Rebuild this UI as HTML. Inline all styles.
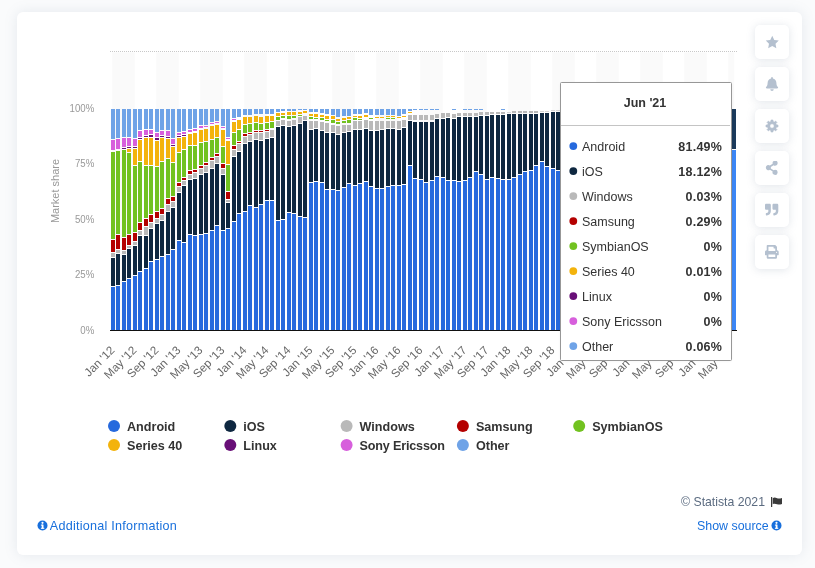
<!DOCTYPE html>
<html><head><meta charset="utf-8"><title>Mobile OS market share</title>
<style>
html,body{margin:0;padding:0}
body{width:815px;height:568px;overflow:hidden;background:#fafbfc;font-family:"Liberation Sans",sans-serif;position:relative}
.card{position:absolute;left:17px;top:12px;width:785px;height:543px;background:#fff;border-radius:6px;box-shadow:0 0 13px rgba(110,125,155,.15)}
svg{position:absolute;left:0;top:0}
svg text{font-family:"Liberation Sans",sans-serif}
.btn{position:absolute;left:755px;width:34px;height:34px;background:#fff;border-radius:5px;box-shadow:0 1px 8px rgba(120,135,160,.22)}
.btn svg{position:absolute;left:9px;top:9px}
.foot{position:absolute;font-size:12.4px;white-space:nowrap}
</style></head><body>
<div id="wrap" style="position:absolute;left:0;top:0;width:815px;height:568px;will-change:transform">
<div class="card"></div>
<svg width="815" height="568" viewBox="0 0 815 568">
<defs><filter id="ts" x="-10%" y="-10%" width="120%" height="120%"><feGaussianBlur stdDeviation="1.5"/></filter></defs>
<g shape-rendering="crispEdges">
<rect x="112.30" y="52.4" width="22.40" height="278" fill="#fafafa" shape-rendering="auto"/>
<rect x="156.30" y="52.4" width="22.40" height="278" fill="#fafafa" shape-rendering="auto"/>
<rect x="200.30" y="52.4" width="22.40" height="278" fill="#fafafa" shape-rendering="auto"/>
<rect x="244.30" y="52.4" width="22.40" height="278" fill="#fafafa" shape-rendering="auto"/>
<rect x="288.30" y="52.4" width="22.40" height="278" fill="#fafafa" shape-rendering="auto"/>
<rect x="332.30" y="52.4" width="22.40" height="278" fill="#fafafa" shape-rendering="auto"/>
<rect x="376.30" y="52.4" width="22.40" height="278" fill="#fafafa" shape-rendering="auto"/>
<rect x="420.30" y="52.4" width="22.40" height="278" fill="#fafafa" shape-rendering="auto"/>
<rect x="464.30" y="52.4" width="22.40" height="278" fill="#fafafa" shape-rendering="auto"/>
<rect x="508.30" y="52.4" width="22.40" height="278" fill="#fafafa" shape-rendering="auto"/>
<rect x="552.30" y="52.4" width="22.40" height="278" fill="#fafafa" shape-rendering="auto"/>
<rect x="596.30" y="52.4" width="22.40" height="278" fill="#fafafa" shape-rendering="auto"/>
<rect x="640.30" y="52.4" width="22.40" height="278" fill="#fafafa" shape-rendering="auto"/>
<rect x="684.30" y="52.4" width="22.40" height="278" fill="#fafafa" shape-rendering="auto"/>
<rect x="728.30" y="52.4" width="5.95" height="278" fill="#fafafa" shape-rendering="auto"/>
<line x1="110" x2="737" y1="51.5" y2="51.5" stroke="#c8c8c8" stroke-width="1" stroke-dasharray="1,1"/>
<path fill="#6fa3e7" d="M111 109h4v30h-4zM116 109h4v29h-4zM122 109h4v28h-4zM127 109h4v28h-4zM133 109h4v29h-4zM138 109h4v21h-4zM144 109h4v20h-4zM149 109h4v20h-4zM155 109h4v23h-4zM160 109h4v21h-4zM166 109h4v21h-4zM171 109h4v29h-4zM177 109h4v23h-4zM182 109h4v22h-4zM188 109h4v20h-4zM193 109h4v19h-4zM199 109h4v16h-4zM204 109h4v16h-4zM210 109h4v13h-4zM215 109h4v12h-4zM221 109h4v17h-4zM226 109h4v28h-4zM232 109h4v9h-4zM237 109h4v8h-4zM243 109h4v6h-4zM248 109h4v6h-4zM254 109h4v5h-4zM259 109h4v5h-4zM265 109h4v5h-4zM270 109h4v5h-4zM276 109h4v3h-4zM281 109h4v2h-4zM287 109h4v2h-4zM292 109h4v2h-4zM298 109h4v1h-4zM303 109h4v1h-4zM309 109h4v3h-4zM314 109h4v3h-4zM320 109h4v4h-4zM325 109h4v5h-4zM331 109h4v6h-4zM336 109h4v8h-4zM342 109h4v7h-4zM347 109h4v7h-4zM353 109h4v5h-4zM358 109h4v5h-4zM364 109h4v4h-4zM369 109h4v6h-4zM375 109h4v6h-4zM380 109h4v6h-4zM386 109h4v6h-4zM391 109h4v6h-4zM397 109h4v7h-4zM402 109h4v5h-4zM408 109h4v2h-4zM413 109h4v1h-4zM419 109h4v1h-4zM424 109h4v1h-4zM430 109h4v1h-4zM435 109h4v1h-4zM452 109h4v1h-4zM463 109h4v1h-4zM468 109h4v1h-4zM474 109h4v1h-4zM479 109h4v1h-4zM501 109h4v1h-4z"/>
<path fill="#d75fdc" d="M111 140h4v10h-4zM116 139h4v10h-4zM122 138h4v9h-4zM127 138h4v8h-4zM133 139h4v7h-4zM138 131h4v6h-4zM144 130h4v5h-4zM149 130h4v4h-4zM155 133h4v4h-4zM160 131h4v4h-4zM166 131h4v5h-4zM171 139h4v5h-4zM177 133h4v2h-4zM182 132h4v2h-4zM188 130h4v2h-4zM193 129h4v2h-4zM199 126h4v2h-4zM204 126h4v1h-4zM210 123h4v1h-4zM215 122h4v1h-4zM221 127h4v1h-4zM226 138h4v1h-4zM232 119h4v1h-4z"/>
<path fill="#72c220" d="M111 152h4v87h-4zM116 151h4v83h-4zM122 150h4v87h-4zM127 153h4v81h-4zM133 166h4v66h-4zM138 162h4v60h-4zM144 166h4v52h-4zM149 166h4v48h-4zM155 167h4v44h-4zM160 162h4v46h-4zM166 159h4v39h-4zM171 163h4v33h-4zM177 153h4v29h-4zM182 150h4v27h-4zM188 146h4v24h-4zM193 146h4v23h-4zM199 143h4v22h-4zM204 142h4v20h-4zM210 140h4v17h-4zM215 138h4v15h-4zM221 147h4v16h-4zM226 165h4v26h-4zM232 133h4v12h-4zM237 130h4v11h-4zM243 125h4v8h-4zM248 124h4v8h-4zM254 123h4v7h-4zM259 124h4v6h-4zM265 123h4v6h-4zM270 122h4v6h-4zM276 117h4v3h-4zM281 116h4v2h-4zM287 116h4v3h-4zM292 116h4v2h-4zM298 115h4v1h-4zM309 117h4v2h-4zM314 118h4v1h-4zM320 118h4v2h-4zM325 120h4v1h-4zM331 120h4v3h-4zM336 122h4v2h-4zM342 121h4v2h-4zM347 120h4v3h-4zM353 118h4v2h-4zM358 119h4v1h-4zM369 118h4v1h-4zM386 118h4v1h-4zM391 118h4v1h-4z"/>
<path fill="#b40000" d="M111 240h4v12h-4zM116 235h4v14h-4zM122 238h4v12h-4zM127 235h4v10h-4zM133 233h4v8h-4zM138 223h4v7h-4zM144 219h4v7h-4zM149 215h4v7h-4zM155 212h4v6h-4zM160 209h4v5h-4zM166 199h4v5h-4zM171 197h4v4h-4zM177 183h4v3h-4zM182 178h4v2h-4zM188 171h4v3h-4zM193 170h4v2h-4zM199 166h4v2h-4zM204 163h4v2h-4zM210 158h4v2h-4zM215 154h4v2h-4zM221 164h4v4h-4zM226 192h4v7h-4zM232 146h4v3h-4zM237 142h4v1h-4zM243 134h4v2h-4zM248 133h4v1h-4zM254 131h4v1h-4zM259 131h4v1h-4zM265 130h4v1h-4z"/>
<path fill="#b9b9b9" d="M111 253h4v4h-4zM116 250h4v3h-4zM122 251h4v3h-4zM127 246h4v2h-4zM133 242h4v3h-4zM138 231h4v4h-4zM144 227h4v8h-4zM149 223h4v5h-4zM155 219h4v4h-4zM160 215h4v5h-4zM166 205h4v6h-4zM171 202h4v5h-4zM177 187h4v5h-4zM182 181h4v4h-4zM188 175h4v4h-4zM193 173h4v5h-4zM199 169h4v5h-4zM204 166h4v6h-4zM210 161h4v7h-4zM215 157h4v6h-4zM221 169h4v5h-4zM226 200h4v2h-4zM232 150h4v6h-4zM237 144h4v7h-4zM243 137h4v6h-4zM248 135h4v6h-4zM254 133h4v6h-4zM259 133h4v7h-4zM265 132h4v6h-4zM270 130h4v7h-4zM276 121h4v5h-4zM281 120h4v5h-4zM287 121h4v5h-4zM292 120h4v5h-4zM298 117h4v6h-4zM303 116h4v4h-4zM309 121h4v8h-4zM314 121h4v7h-4zM320 122h4v8h-4zM325 123h4v9h-4zM331 125h4v7h-4zM336 126h4v8h-4zM342 125h4v7h-4zM347 125h4v6h-4zM353 121h4v8h-4zM358 121h4v8h-4zM364 120h4v8h-4zM369 121h4v9h-4zM375 121h4v9h-4zM380 121h4v8h-4zM386 121h4v7h-4zM391 121h4v7h-4zM397 121h4v8h-4zM402 120h4v7h-4zM408 115h4v5h-4zM413 115h4v5h-4zM419 115h4v5h-4zM424 115h4v5h-4zM430 115h4v5h-4zM435 114h4v4h-4zM441 113h4v5h-4zM446 113h4v4h-4zM452 114h4v4h-4zM457 113h4v3h-4zM463 113h4v3h-4zM468 113h4v3h-4zM474 113h4v3h-4zM479 112h4v3h-4zM485 112h4v3h-4zM490 112h4v2h-4zM496 112h4v2h-4zM501 112h4v2h-4zM512 111h4v2h-4zM518 111h4v2h-4zM523 111h4v2h-4zM529 111h4v2h-4zM534 111h4v2h-4z"/>
<path fill="#0e2740" d="M111 258h4v28h-4zM116 254h4v31h-4zM122 255h4v26h-4zM127 249h4v29h-4zM133 246h4v29h-4zM138 236h4v35h-4zM144 236h4v32h-4zM149 229h4v32h-4zM155 224h4v35h-4zM160 221h4v35h-4zM166 212h4v42h-4zM171 208h4v41h-4zM177 193h4v47h-4zM182 186h4v56h-4zM188 180h4v54h-4zM193 179h4v56h-4zM199 175h4v59h-4zM204 173h4v60h-4zM210 169h4v61h-4zM215 164h4v61h-4zM221 175h4v55h-4zM226 203h4v25h-4zM232 157h4v64h-4zM237 152h4v61h-4zM243 144h4v67h-4zM248 142h4v63h-4zM254 140h4v67h-4zM259 141h4v63h-4zM265 139h4v61h-4zM270 138h4v62h-4zM276 127h4v93h-4zM281 126h4v93h-4zM287 127h4v85h-4zM292 126h4v87h-4zM298 124h4v92h-4zM303 121h4v96h-4zM309 130h4v52h-4zM314 129h4v52h-4zM320 131h4v51h-4zM325 133h4v56h-4zM331 133h4v56h-4zM336 135h4v55h-4zM342 133h4v54h-4zM347 132h4v51h-4zM353 130h4v55h-4zM358 130h4v53h-4zM364 129h4v52h-4zM369 131h4v55h-4zM375 131h4v57h-4zM380 130h4v58h-4zM386 129h4v57h-4zM391 129h4v56h-4zM397 130h4v55h-4zM402 128h4v56h-4zM408 121h4v44h-4zM413 122h4v56h-4zM419 122h4v57h-4zM424 122h4v60h-4zM430 122h4v58h-4zM435 119h4v57h-4zM441 119h4v58h-4zM446 118h4v62h-4zM452 119h4v61h-4zM457 117h4v64h-4zM463 117h4v63h-4zM468 117h4v60h-4zM474 117h4v54h-4zM479 116h4v58h-4zM485 116h4v63h-4zM490 115h4v62h-4zM496 115h4v63h-4zM501 115h4v64h-4zM507 114h4v65h-4zM512 114h4v63h-4zM518 114h4v60h-4zM523 114h4v57h-4zM529 114h4v56h-4zM534 114h4v51h-4zM540 113h4v48h-4zM545 113h4v53h-4zM551 112h4v56h-4zM556 112h4v58h-4zM562 110h4v61h-4zM567 110h4v59h-4zM573 110h4v60h-4zM578 110h4v58h-4zM584 110h4v58h-4zM589 110h4v63h-4zM595 110h4v63h-4zM600 110h4v56h-4zM606 110h4v61h-4zM611 110h4v61h-4zM617 110h4v55h-4zM622 110h4v59h-4zM628 110h4v56h-4zM633 110h4v59h-4zM639 110h4v58h-4zM644 110h4v62h-4zM650 110h4v58h-4zM655 110h4v56h-4zM661 110h4v59h-4zM666 110h4v57h-4zM672 110h4v58h-4zM677 110h4v63h-4zM683 110h4v57h-4zM688 110h4v58h-4zM694 110h4v61h-4zM699 110h4v63h-4zM705 110h4v56h-4zM710 110h4v59h-4zM716 110h4v57h-4zM721 110h4v56h-4zM727 110h4v57h-4z"/>
<path fill="#2669dd" d="M111 287h4v43h-4zM116 286h4v44h-4zM122 282h4v48h-4zM127 279h4v51h-4zM133 276h4v54h-4zM138 272h4v58h-4zM144 269h4v61h-4zM149 262h4v68h-4zM155 260h4v70h-4zM160 257h4v73h-4zM166 255h4v75h-4zM171 250h4v80h-4zM177 241h4v89h-4zM182 243h4v87h-4zM188 235h4v95h-4zM193 236h4v94h-4zM199 235h4v95h-4zM204 234h4v96h-4zM210 231h4v99h-4zM215 226h4v104h-4zM221 231h4v99h-4zM226 229h4v101h-4zM232 222h4v108h-4zM237 214h4v116h-4zM243 212h4v118h-4zM248 206h4v124h-4zM254 208h4v122h-4zM259 205h4v125h-4zM265 201h4v129h-4zM270 201h4v129h-4zM276 221h4v109h-4zM281 220h4v110h-4zM287 213h4v117h-4zM292 214h4v116h-4zM298 217h4v113h-4zM303 218h4v112h-4zM309 183h4v147h-4zM314 182h4v148h-4zM320 183h4v147h-4zM325 190h4v140h-4zM331 190h4v140h-4zM336 191h4v139h-4zM342 188h4v142h-4zM347 184h4v146h-4zM353 186h4v144h-4zM358 184h4v146h-4zM364 182h4v148h-4zM369 187h4v143h-4zM375 189h4v141h-4zM380 189h4v141h-4zM386 187h4v143h-4zM391 186h4v144h-4zM397 186h4v144h-4zM402 185h4v145h-4zM408 166h4v164h-4zM413 179h4v151h-4zM419 180h4v150h-4zM424 183h4v147h-4zM430 181h4v149h-4zM435 177h4v153h-4zM441 178h4v152h-4zM446 181h4v149h-4zM452 181h4v149h-4zM457 182h4v148h-4zM463 181h4v149h-4zM468 178h4v152h-4zM474 172h4v158h-4zM479 175h4v155h-4zM485 180h4v150h-4zM490 178h4v152h-4zM496 179h4v151h-4zM501 180h4v150h-4zM507 180h4v150h-4zM512 178h4v152h-4zM518 175h4v155h-4zM523 172h4v158h-4zM529 171h4v159h-4zM534 166h4v164h-4zM540 162h4v168h-4zM545 167h4v163h-4zM551 169h4v161h-4zM556 171h4v159h-4zM562 172h4v158h-4zM567 170h4v160h-4zM573 171h4v159h-4zM578 169h4v161h-4zM584 169h4v161h-4zM589 174h4v156h-4zM595 174h4v156h-4zM600 167h4v163h-4zM606 172h4v158h-4zM611 172h4v158h-4zM617 166h4v164h-4zM622 170h4v160h-4zM628 167h4v163h-4zM633 170h4v160h-4zM639 169h4v161h-4zM644 173h4v157h-4zM650 169h4v161h-4zM655 167h4v163h-4zM661 170h4v160h-4zM666 168h4v162h-4zM672 169h4v161h-4zM677 174h4v156h-4zM683 168h4v162h-4zM688 169h4v161h-4zM694 172h4v158h-4zM699 174h4v156h-4zM705 167h4v163h-4zM710 170h4v160h-4zM716 168h4v162h-4zM721 167h4v163h-4zM727 168h4v162h-4z"/>
<path fill="#680f77" d="M122 148h4v1h-4zM127 147h4v1h-4zM133 147h4v1h-4zM138 138h4v1h-4zM144 136h4v1h-4zM149 135h4v2h-4zM155 138h4v2h-4zM160 136h4v1h-4zM166 137h4v1h-4zM171 145h4v1h-4zM177 136h4v1h-4zM182 135h4v1h-4z"/>
<path fill="#f3b30c" d="M127 149h4v3h-4zM133 149h4v16h-4zM138 140h4v21h-4zM144 138h4v27h-4zM149 138h4v27h-4zM155 141h4v25h-4zM160 138h4v23h-4zM166 139h4v19h-4zM171 147h4v15h-4zM177 138h4v14h-4zM182 137h4v12h-4zM188 134h4v11h-4zM193 133h4v12h-4zM199 130h4v12h-4zM204 129h4v12h-4zM210 126h4v13h-4zM215 125h4v12h-4zM221 130h4v16h-4zM226 141h4v23h-4zM232 122h4v10h-4zM237 120h4v9h-4zM243 117h4v7h-4zM248 117h4v6h-4zM254 116h4v6h-4zM259 117h4v6h-4zM265 116h4v6h-4zM270 116h4v5h-4zM276 113h4v3h-4zM281 113h4v2h-4zM287 112h4v3h-4zM292 112h4v3h-4zM298 112h4v2h-4zM303 111h4v2h-4zM309 114h4v2h-4zM314 114h4v3h-4zM320 115h4v2h-4zM325 116h4v3h-4zM331 116h4v3h-4zM336 119h4v2h-4zM342 118h4v2h-4zM347 117h4v2h-4zM353 116h4v1h-4zM358 116h4v2h-4zM364 115h4v2h-4zM375 117h4v1h-4zM380 117h4v1h-4zM386 116h4v1h-4zM391 116h4v1h-4zM397 117h4v1h-4zM402 116h4v1h-4zM408 112h4v1h-4z"/>
<path fill="#d6d6d6" d="M507 112h4v1h-4zM540 111h4v1h-4zM545 111h4v1h-4zM551 110h4v1h-4zM556 110h4v1h-4z"/>
<path fill="#1b3a5b" d="M732 109h4v40h-4z"/>
<path fill="#3b86f5" d="M732 150h4v180h-4z"/>
<rect x="110" y="330" width="627" height="1" fill="#111"/>
</g>
<g font-size="11.6" fill="#666">
<text transform="translate(115.25,351) rotate(-45)" text-anchor="end">Jan &#39;12</text>
<text transform="translate(137.25,351) rotate(-45)" text-anchor="end">May &#39;12</text>
<text transform="translate(159.25,351) rotate(-45)" text-anchor="end">Sep &#39;12</text>
<text transform="translate(181.25,351) rotate(-45)" text-anchor="end">Jan &#39;13</text>
<text transform="translate(203.25,351) rotate(-45)" text-anchor="end">May &#39;13</text>
<text transform="translate(225.25,351) rotate(-45)" text-anchor="end">Sep &#39;13</text>
<text transform="translate(247.25,351) rotate(-45)" text-anchor="end">Jan &#39;14</text>
<text transform="translate(269.25,351) rotate(-45)" text-anchor="end">May &#39;14</text>
<text transform="translate(291.25,351) rotate(-45)" text-anchor="end">Sep &#39;14</text>
<text transform="translate(313.25,351) rotate(-45)" text-anchor="end">Jan &#39;15</text>
<text transform="translate(335.25,351) rotate(-45)" text-anchor="end">May &#39;15</text>
<text transform="translate(357.25,351) rotate(-45)" text-anchor="end">Sep &#39;15</text>
<text transform="translate(379.25,351) rotate(-45)" text-anchor="end">Jan &#39;16</text>
<text transform="translate(401.25,351) rotate(-45)" text-anchor="end">May &#39;16</text>
<text transform="translate(423.25,351) rotate(-45)" text-anchor="end">Sep &#39;16</text>
<text transform="translate(445.25,351) rotate(-45)" text-anchor="end">Jan &#39;17</text>
<text transform="translate(467.25,351) rotate(-45)" text-anchor="end">May &#39;17</text>
<text transform="translate(489.25,351) rotate(-45)" text-anchor="end">Sep &#39;17</text>
<text transform="translate(511.25,351) rotate(-45)" text-anchor="end">Jan &#39;18</text>
<text transform="translate(533.25,351) rotate(-45)" text-anchor="end">May &#39;18</text>
<text transform="translate(555.25,351) rotate(-45)" text-anchor="end">Sep &#39;18</text>
<text transform="translate(577.25,351) rotate(-45)" text-anchor="end">Jan &#39;19</text>
<text transform="translate(599.25,351) rotate(-45)" text-anchor="end">May &#39;19</text>
<text transform="translate(621.25,351) rotate(-45)" text-anchor="end">Sep &#39;19</text>
<text transform="translate(643.25,351) rotate(-45)" text-anchor="end">Jan &#39;20</text>
<text transform="translate(665.25,351) rotate(-45)" text-anchor="end">May &#39;20</text>
<text transform="translate(687.25,351) rotate(-45)" text-anchor="end">Sep &#39;20</text>
<text transform="translate(709.25,351) rotate(-45)" text-anchor="end">Jan &#39;21</text>
<text transform="translate(731.25,351) rotate(-45)" text-anchor="end">May &#39;21</text>
</g>
<text transform="translate(94.3,334.0) scale(0.88,1)" text-anchor="end" font-size="11" fill="#999">0%</text>
<text transform="translate(94.3,277.8) scale(0.88,1)" text-anchor="end" font-size="11" fill="#999">25%</text>
<text transform="translate(94.3,223.0) scale(0.88,1)" text-anchor="end" font-size="11" fill="#999">50%</text>
<text transform="translate(94.3,166.8) scale(0.88,1)" text-anchor="end" font-size="11" fill="#999">75%</text>
<text transform="translate(94.3,112.0) scale(0.88,1)" text-anchor="end" font-size="11" fill="#999">100%</text>
<text transform="translate(59.2,191) rotate(-90)" text-anchor="middle" font-size="11" fill="#999">Market share</text>
<circle cx="114.0" cy="426" r="6" fill="#2669dd"/>
<text x="127.0" y="430.5" font-size="12.6" font-weight="bold" fill="#333">Android</text>
<circle cx="230.3" cy="426" r="6" fill="#0e2740"/>
<text x="243.3" y="430.5" font-size="12.6" font-weight="bold" fill="#333">iOS</text>
<circle cx="346.6" cy="426" r="6" fill="#b9b9b9"/>
<text x="359.6" y="430.5" font-size="12.6" font-weight="bold" fill="#333">Windows</text>
<circle cx="462.9" cy="426" r="6" fill="#b40000"/>
<text x="475.9" y="430.5" font-size="12.6" font-weight="bold" fill="#333">Samsung</text>
<circle cx="579.2" cy="426" r="6" fill="#72c220"/>
<text x="592.2" y="430.5" font-size="12.6" font-weight="bold" fill="#333">SymbianOS</text>
<circle cx="114.0" cy="445" r="6" fill="#f3b30c"/>
<text x="127.0" y="449.5" font-size="12.6" font-weight="bold" fill="#333">Series 40</text>
<circle cx="230.3" cy="445" r="6" fill="#680f77"/>
<text x="243.3" y="449.5" font-size="12.6" font-weight="bold" fill="#333">Linux</text>
<circle cx="346.6" cy="445" r="6" fill="#d75fdc"/>
<text x="359.6" y="449.5" font-size="12.6" font-weight="bold" fill="#333" letter-spacing="-0.18">Sony Ericsson</text>
<circle cx="462.9" cy="445" r="6" fill="#6fa3e7"/>
<text x="475.9" y="449.5" font-size="12.6" font-weight="bold" fill="#333">Other</text>
<rect x="560.5" y="83" width="171" height="278" fill="#000" opacity="0.06" rx="2" filter="url(#ts)"/>
<rect x="560.5" y="82.5" width="171" height="278" fill="#fff" stroke="#979797" stroke-width="1" rx="1"/>
<line x1="561" x2="730" y1="125.5" y2="125.5" stroke="#c4c4c4" stroke-width="1"/>
<text x="645" y="107" text-anchor="middle" font-weight="bold" font-size="12.5" fill="#333">Jun &#39;21</text>
<circle cx="573.3" cy="146.1" r="3.9" fill="#2669dd"/>
<text x="582" y="150.8" font-size="12.5" fill="#333">Android</text>
<text x="722.2" y="150.8" font-size="12.5" font-weight="bold" letter-spacing="0.25" text-anchor="end" fill="#333">81.49%</text>
<circle cx="573.3" cy="171.1" r="3.9" fill="#0e2740"/>
<text x="582" y="175.8" font-size="12.5" fill="#333">iOS</text>
<text x="722.2" y="175.8" font-size="12.5" font-weight="bold" letter-spacing="0.25" text-anchor="end" fill="#333">18.12%</text>
<circle cx="573.3" cy="196.1" r="3.9" fill="#b9b9b9"/>
<text x="582" y="200.8" font-size="12.5" fill="#333">Windows</text>
<text x="722.2" y="200.8" font-size="12.5" font-weight="bold" letter-spacing="0.25" text-anchor="end" fill="#333">0.03%</text>
<circle cx="573.3" cy="221.1" r="3.9" fill="#b40000"/>
<text x="582" y="225.8" font-size="12.5" fill="#333">Samsung</text>
<text x="722.2" y="225.8" font-size="12.5" font-weight="bold" letter-spacing="0.25" text-anchor="end" fill="#333">0.29%</text>
<circle cx="573.3" cy="246.1" r="3.9" fill="#72c220"/>
<text x="582" y="250.8" font-size="12.5" fill="#333">SymbianOS</text>
<text x="722.2" y="250.8" font-size="12.5" font-weight="bold" letter-spacing="0.25" text-anchor="end" fill="#333">0%</text>
<circle cx="573.3" cy="271.1" r="3.9" fill="#f3b30c"/>
<text x="582" y="275.8" font-size="12.5" fill="#333">Series 40</text>
<text x="722.2" y="275.8" font-size="12.5" font-weight="bold" letter-spacing="0.25" text-anchor="end" fill="#333">0.01%</text>
<circle cx="573.3" cy="296.1" r="3.9" fill="#680f77"/>
<text x="582" y="300.8" font-size="12.5" fill="#333">Linux</text>
<text x="722.2" y="300.8" font-size="12.5" font-weight="bold" letter-spacing="0.25" text-anchor="end" fill="#333">0%</text>
<circle cx="573.3" cy="321.1" r="3.9" fill="#d75fdc"/>
<text x="582" y="325.8" font-size="12.5" fill="#333">Sony Ericsson</text>
<text x="722.2" y="325.8" font-size="12.5" font-weight="bold" letter-spacing="0.25" text-anchor="end" fill="#333">0%</text>
<circle cx="573.3" cy="346.1" r="3.9" fill="#6fa3e7"/>
<text x="582" y="350.8" font-size="12.5" fill="#333">Other</text>
<text x="722.2" y="350.8" font-size="12.5" font-weight="bold" letter-spacing="0.25" text-anchor="end" fill="#333">0.06%</text>
</svg>
<div class="btn" style="top:25px"><svg width="14.5" height="14.5" viewBox="0 0 16 16" style="left:9.75px;top:9.75px"><path fill="#b4c0cf" d="M8 .8l2.2 4.6 5 .7-3.6 3.5.9 5L8 12.2 3.500 14.600l.9-5L.8 6.100l5-.7z"/></svg></div>
<div class="btn" style="top:67px"><svg width="14" height="14" viewBox="0 0 16 16" style="left:10.00px;top:10.00px"><path fill="#b4c0cf" d="M8 16a2 2 0 0 0 2-2H6a2 2 0 0 0 2 2zm6.700-4.700C14.100 10.700 13 9.700 13 6.500c0-2.400-1.700-4.400-4-4.900V1a1 1 0 1 0-2 0v.6c-2.300.5-4 2.500-4 4.900 0 3.200-1.100 4.200-1.700 4.800-.2.200-.3.500-.3.700 0 .5.400 1 1 1h12c.6 0 1-.5 1-1 0-.2-.1-.5-.3-.7z"/></svg></div>
<div class="btn" style="top:109px"><svg width="16" height="16" viewBox="0 0 16 16" style="left:9.100px;top:9.100px"><path fill="#b4c0cf" fill-rule="evenodd" stroke="#b4c0cf" stroke-width="0.6" stroke-linejoin="round" d="M6.93 3.53L6.99 1.98L9.01 1.98L9.07 3.53L10.40 4.08L11.54 3.03L12.97 4.46L11.92 5.60L12.47 6.93L14.02 6.99L14.02 9.01L12.47 9.07L11.92 10.40L12.97 11.54L11.54 12.97L10.40 11.92L9.07 12.47L9.01 14.02L6.99 14.02L6.93 12.47L5.60 11.92L4.46 12.97L3.03 11.54L4.08 10.40L3.53 9.07L1.98 9.01L1.98 6.99L3.53 6.93L4.08 5.60L3.03 4.46L4.46 3.03L5.60 4.08zM5.80 8a2.2 2.2 0 1 0 4.4 0a2.2 2.2 0 1 0 -4.4 0z"/></svg></div>
<div class="btn" style="top:151px"><svg width="13.5" height="13.5" viewBox="0 0 16 16" style="left:10.25px;top:10.25px"><path fill="#b4c0cf" d="M12 10.500c-.7 0-1.300.2-1.800.6L6.900 9c.1-.6.1-1.300 0-1.900l3.300-2.100c.5.400 1.100.6 1.800.6a3 3 0 1 0-2.900-2.300L5.800 5.400A3 3 0 0 0 1 8a3 3 0 0 0 4.800 2.400l3.300 2.100A3 3 0 1 0 12 10.500z"/></svg></div>
<div class="btn" style="top:193px"><svg width="13.3" height="13.3" viewBox="0 0 16 16" style="left:10.35px;top:10.35px"><path fill="#b4c0cf" d="M14.500 8H12V6c0-1.100.9-2 2-2h.3c.4 0 .7-.3.700-.7V1.800c0-.4-.3-.7-.7-.7H14C11.200 1 9 3.200 9 6v7.500c0 .8.700 1.500 1.500 1.500h4c.8 0 1.500-.7 1.500-1.500v-4c0-.8-.7-1.500-1.500-1.500zm-9 0H3V6c0-1.100.9-2 2-2h.3c.4 0 .7-.3.700-.7V1.800c0-.4-.3-.7-.7-.7H5C2.200 1 0 3.200 0 6v7.500C0 14.300.7 15 1.500 15h4c.8 0 1.500-.7 1.500-1.500v-4C7 8.700 6.300 8 5.500 8z" transform="rotate(180 8 8)"/></svg></div>
<div class="btn" style="top:235px"><svg width="13.7" height="13.7" viewBox="0 0 16 16" style="left:10.15px;top:10.15px"><path fill="#b4c0cf" fill-rule="evenodd" d="M14 6V2.400c0-.3-.1-.5-.3-.7L12.300.300C12.100.1 11.900 0 11.600 0H3c-.6 0-1 .4-1 1v5C.9 6 0 6.900 0 8v3.500c0 .3.200.5.500.5H2v3c0 .6.400 1 1 1h10c.6 0 1-.4 1-1v-3h1.500c.3 0 .5-.2.500-.5V8c0-1.100-.9-2-2-2zm-2 8H4v-3h8v3zm0-7H4V2h6v1.500c0 .3.200.5.500.5H12v3zm1.500 2.300a.75.750 0 1 1 0-1.500.75.750 0 0 1 0 1.500z"/></svg></div>
<div class="foot" style="left:37px;top:519px;color:#176fdc"><svg width="11" height="11" viewBox="0 0 11 11" style="position:absolute;left:-0.400px;top:1.300px"><circle cx="5.500" cy="5.500" r="5" fill="#176fdc"/><rect x="4.700" y="4.600" width="1.800" height="4" fill="#fff"/><rect x="3.900" y="4.600" width="2" height="1" fill="#fff"/><rect x="3.900" y="7.800" width="3.400" height="1" fill="#fff"/><circle cx="5.500" cy="2.800" r="1.100" fill="#fff"/></svg><span style="margin-left:12.800px;font-size:12.600px;letter-spacing:0.250px">Additional Information</span></div>
<div class="foot" style="right:32.300px;top:519px;color:#176fdc"><span style="margin-right:14px">Show source</span><svg width="11" height="11" viewBox="0 0 11 11" style="position:absolute;right:0.400px;top:1.400px;left:auto"><circle cx="5.500" cy="5.500" r="5" fill="#176fdc"/><rect x="4.700" y="4.600" width="1.800" height="4" fill="#fff"/><rect x="3.900" y="4.600" width="2" height="1" fill="#fff"/><rect x="3.900" y="7.800" width="3.400" height="1" fill="#fff"/><circle cx="5.500" cy="2.800" r="1.100" fill="#fff"/></svg></div>
<div class="foot" style="right:32px;top:495px;color:#5b6b80;font-size:12.250px"><span style="margin-right:18px">© Statista 2021</span><svg width="11.300" height="10.400" viewBox="0 0 12 11" style="position:absolute;right:0.700px;top:1.800px;left:auto"><rect x="0" y="0" width="1.300" height="11" fill="#3a3a3a"/><path fill="#3a3a3a" d="M1.800 1.200C3.500 0 5 .8 6.500 1.300 8 1.800 9.500 1.800 12 .8v6.400C9.500 8.200 8 8.200 6.500 7.700 5 7.200 3.500 6.600 1.800 7.600z"/></svg></div>
</div>
</body></html>
